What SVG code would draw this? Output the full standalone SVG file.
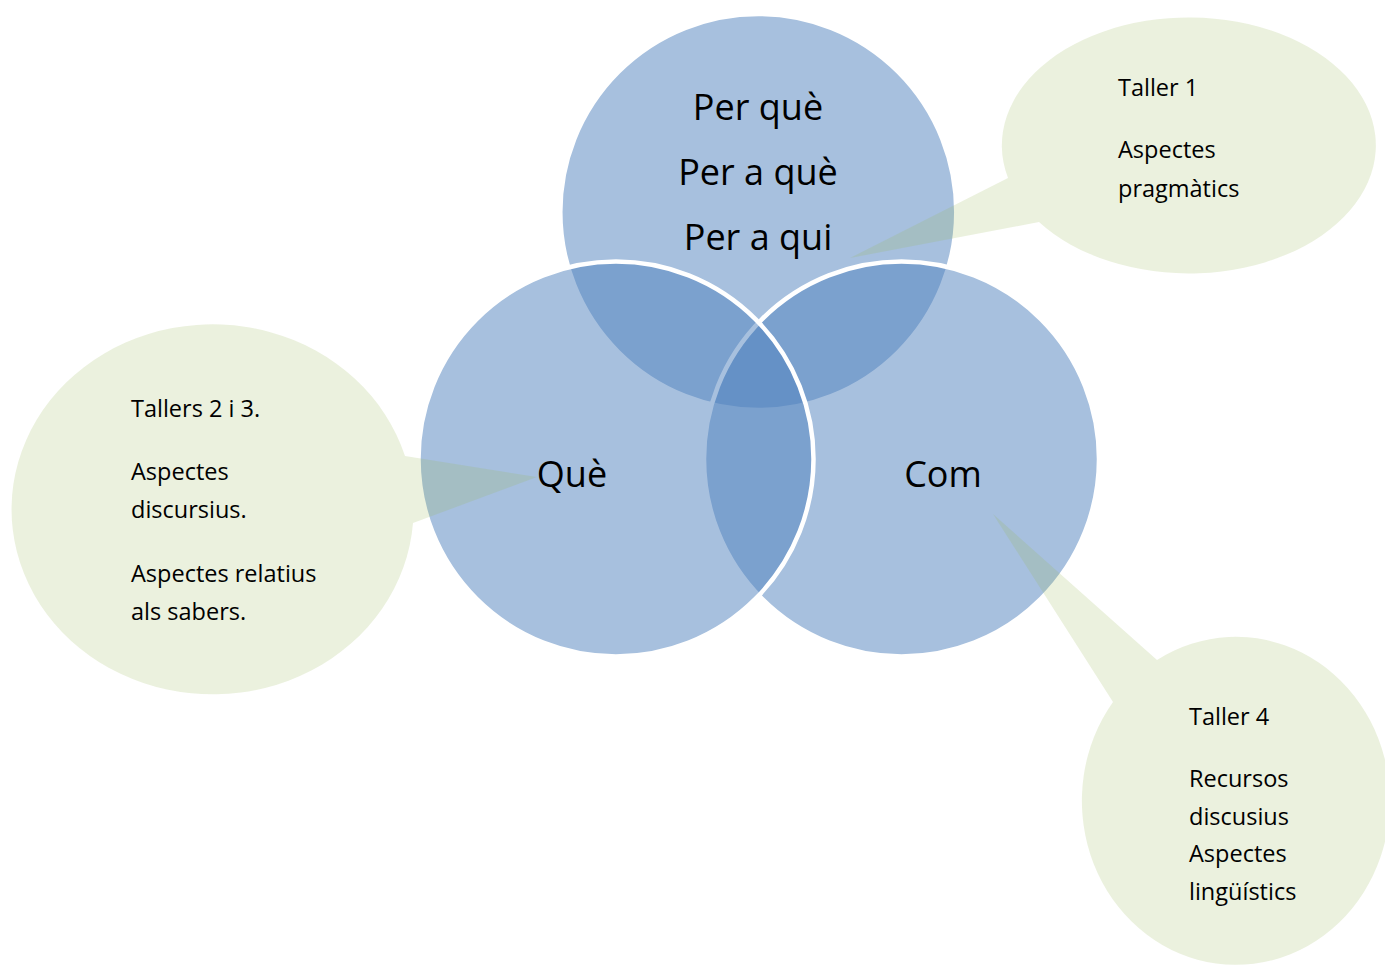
<svg xmlns="http://www.w3.org/2000/svg" width="1385" height="965" viewBox="0 0 1385 965">
<style>
.c{fill:#4F81BD;fill-opacity:0.5;stroke:#FFFFFF;stroke-width:4.5}
.co{fill:#9BBB59;fill-opacity:0.2;stroke:none}
.big{font-family:"Open Sans","Liberation Sans",sans-serif;font-size:36px;fill:#000000;text-anchor:middle}
.sm{font-family:"Open Sans","Liberation Sans",sans-serif;font-size:23.5px;fill:#000000}
</style>
<rect x="0" y="0" width="1385" height="965" fill="#FFFFFF"/>
<g id="circle-top">
<circle class="c" cx="758.3" cy="212" r="198"/>
</g>
<g id="circle-right">
<circle class="c" cx="901.5" cy="459" r="197.5"/>
</g>
<g id="circle-left">
<circle class="c" cx="616" cy="459" r="197.5"/>
</g>
<g id="labels-circles">
<text class="big" x="758" y="120">Per què</text>
<text class="big" x="758" y="185">Per a què</text>
<text class="big" x="758" y="250">Per a qui</text>
<text class="big" x="572" y="487">Què</text>
<text class="big" x="943" y="487">Com</text>
</g>
<g id="connectors">
<path class="co" d="M1008,178 L850,258 L1039,222 A187,128 0 1 0 1008,178 Z"/>
<path class="co" d="M405,456 L537,477 L413,523 A201,185 0 1 1 405,456 Z"/>
<path class="co" d="M1157,660 L993,514 L1113,702 A154,164 0 1 0 1157,660 Z"/>
</g>
<g id="callout-taller1">
<text class="sm" x="1118" y="96">Taller 1</text>
<text class="sm" x="1118" y="158">Aspectes</text>
<text class="sm" x="1118" y="196.5">pragmàtics</text>
</g>
<g id="callout-tallers23">
<text class="sm" x="131" y="417">Tallers 2 i 3.</text>
<text class="sm" x="131" y="480">Aspectes</text>
<text class="sm" x="131" y="518">discursius.</text>
<text class="sm" x="131" y="582">Aspectes relatius</text>
<text class="sm" x="131" y="620">als sabers.</text>
</g>
<g id="callout-taller4">
<text class="sm" x="1189" y="725">Taller 4</text>
<text class="sm" x="1189" y="787">Recursos</text>
<text class="sm" x="1189" y="825">discusius</text>
<text class="sm" x="1189" y="862">Aspectes</text>
<text class="sm" x="1189" y="900">lingüístics</text>
</g>
</svg>
